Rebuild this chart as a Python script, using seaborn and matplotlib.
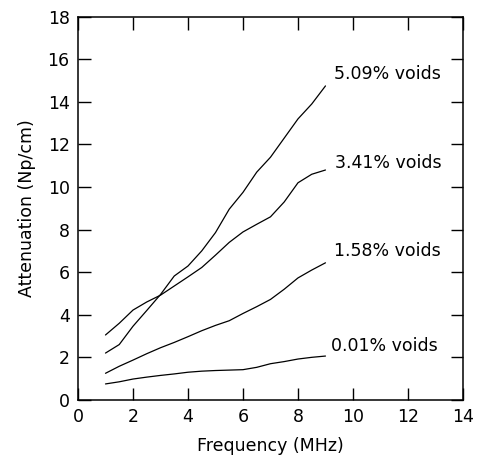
import matplotlib
matplotlib.use("Agg")
import matplotlib.pyplot as plt
import seaborn as sns
import pandas as pd

# frequency points (MHz)
freq = [1.0, 1.5, 2.0, 2.5, 3.0, 3.5, 4.0, 4.5, 5.0, 5.5, 6.0, 6.5, 7.0, 7.5, 8.0, 8.5, 9.0]

# attenuation (Np/cm)
att_001 = [0.75, 0.85, 0.98, 1.07, 1.15, 1.22, 1.30, 1.35, 1.38, 1.40, 1.42, 1.53, 1.70, 1.80, 1.92, 2.00, 2.06]
att_158 = [1.25, 1.58, 1.87, 2.17, 2.45, 2.70, 2.97, 3.25, 3.50, 3.72, 4.06, 4.38, 4.72, 5.20, 5.73, 6.10, 6.44]
att_341 = [3.05, 3.60, 4.22, 4.60, 4.92, 5.35, 5.78, 6.22, 6.80, 7.40, 7.89, 8.25, 8.60, 9.30, 10.20, 10.60, 10.80]
att_509 = [2.20, 2.60, 3.46, 4.20, 4.95, 5.82, 6.29, 7.00, 7.86, 8.96, 9.75, 10.70, 11.40, 12.30, 13.20, 13.90, 14.75]

labels = ["0.01% voids", "1.58% voids", "3.41% voids", "5.09% voids"]
label_x = [9.2, 9.3, 9.35, 9.3]
label_y = [2.51, 7.0, 11.13, 15.33]

sns.set_style("ticks")
plt.rcParams['font.family'] = ['DejaVu Sans']
plt.rcParams['text.color'] = 'black'
plt.rcParams['axes.labelcolor'] = 'black'
plt.rcParams['xtick.color'] = 'black'
plt.rcParams['ytick.color'] = 'black'

fig = plt.figure(figsize=(4.8, 4.65), dpi=100)
ax = fig.add_axes([0.1625, 0.14, 0.802, 0.824])

for lab, vals in zip(labels, [att_001, att_158, att_341, att_509]):
    df = pd.DataFrame({'f': freq, 'a': vals})
    sns.lineplot(data=df, x='f', y='a', ax=ax, color='black', linewidth=0.9)

for lab, lx, ly in zip(labels, label_x, label_y):
    ax.text(lx, ly, lab, ha='left', va='center', fontsize=12.5)

ax.set_xlim(0, 14)
ax.set_ylim(0, 18)
ax.set_xticks(range(0, 15, 2))
ax.set_yticks(range(0, 19, 2))
ax.tick_params(direction='in', length=9, width=1, top=True, right=True, labelsize=12.5, pad=6)
for s in ax.spines.values():
    s.set_linewidth(1.1)
    s.set_color('black')
ax.set_xlabel('Frequency (MHz)', fontsize=12.5, labelpad=8)
ax.set_ylabel('Attenuation (Np/cm)', fontsize=12.5, labelpad=8)

fig.savefig('out.png', dpi=100)
